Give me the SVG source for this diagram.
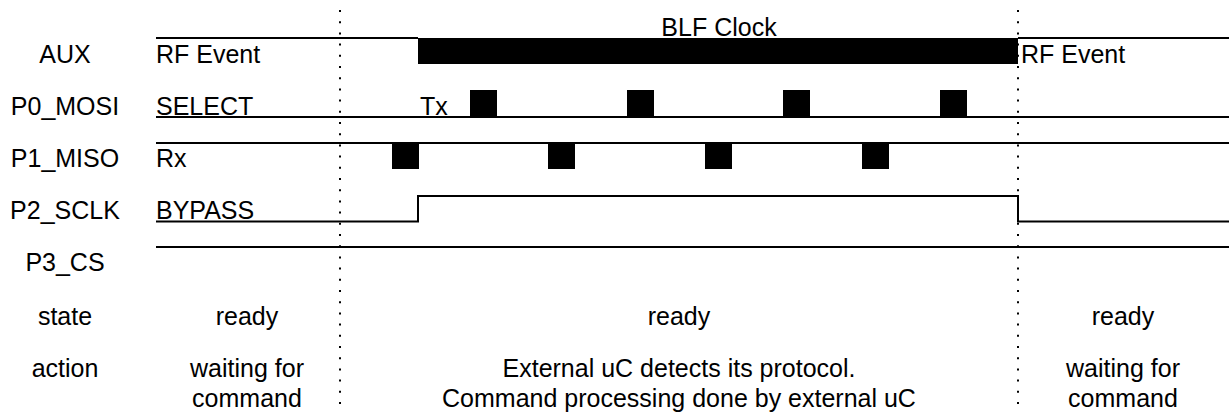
<svg xmlns="http://www.w3.org/2000/svg" width="1230" height="413" viewBox="0 0 1230 413">
<style>
text{font-family:"Liberation Sans",Arial,sans-serif;font-size:25px;fill:#000}
.m{text-anchor:middle}
.sig{fill:none;stroke:#000;stroke-width:2}
.dot{fill:none;stroke:#000;stroke-width:2;stroke-dasharray:2 9.2}
.blk{fill:#000}
</style>
<rect width="1230" height="413" fill="#fff"/>
<g id="labels">
<text class="m" x="65" y="63">AUX</text>
<text class="m" x="65" y="115">P0_MOSI</text>
<text class="m" x="65" y="167">P1_MISO</text>
<text class="m" x="65" y="219">P2_SCLK</text>
<text class="m" x="65" y="271">P3_CS</text>
<text class="m" x="65" y="325">state</text>
<text class="m" x="65" y="377">action</text>
</g>
<g id="dividers">
<line class="dot" x1="340" y1="10" x2="340" y2="411"/>
<line class="dot" x1="1018" y1="10" x2="1018" y2="411"/>
</g>
<g id="aux">
<path class="sig" d="M156 38H418M1018 38H1229"/>
<rect class="blk" x="418" y="38" width="600" height="26"/>
<text x="156" y="63">RF Event</text>
<text class="m" x="719" y="36">BLF Clock</text>
<text x="1021" y="63">RF Event</text>
</g>
<g id="p0_mosi">
<line class="sig" x1="156" y1="117" x2="1229" y2="117"/>
<rect class="blk" x="470" y="90" width="27" height="27"/>
<rect class="blk" x="627" y="90" width="27" height="27"/>
<rect class="blk" x="783" y="90" width="27" height="27"/>
<rect class="blk" x="940" y="90" width="27" height="27"/>
<text x="156" y="115">SELECT</text>
<text x="420" y="115">Tx</text>
</g>
<g id="p1_miso">
<line class="sig" x1="156" y1="143" x2="1229" y2="143"/>
<rect class="blk" x="392" y="143" width="27" height="26"/>
<rect class="blk" x="548" y="143" width="27" height="26"/>
<rect class="blk" x="705" y="143" width="27" height="26"/>
<rect class="blk" x="862" y="143" width="27" height="26"/>
<text x="156" y="167">Rx</text>
</g>
<g id="p2_sclk">
<path class="sig" d="M156 221.5H418V196H1018V221.5H1229"/>
<text x="156" y="219">BYPASS</text>
</g>
<g id="p3_cs">
<line class="sig" x1="156" y1="247" x2="1229" y2="247"/>
</g>
<g id="phase1">
<text class="m" x="247" y="325">ready</text>
<text class="m" x="247" y="377">waiting for</text>
<text class="m" x="247" y="407">command</text>
</g>
<g id="phase2">
<text class="m" x="679" y="325">ready</text>
<text class="m" x="679" y="377">External uC detects its protocol.</text>
<text class="m" x="679" y="407">Command processing done by external uC</text>
</g>
<g id="phase3">
<text class="m" x="1123" y="325">ready</text>
<text class="m" x="1123" y="377">waiting for</text>
<text class="m" x="1123" y="407">command</text>
</g>
</svg>
